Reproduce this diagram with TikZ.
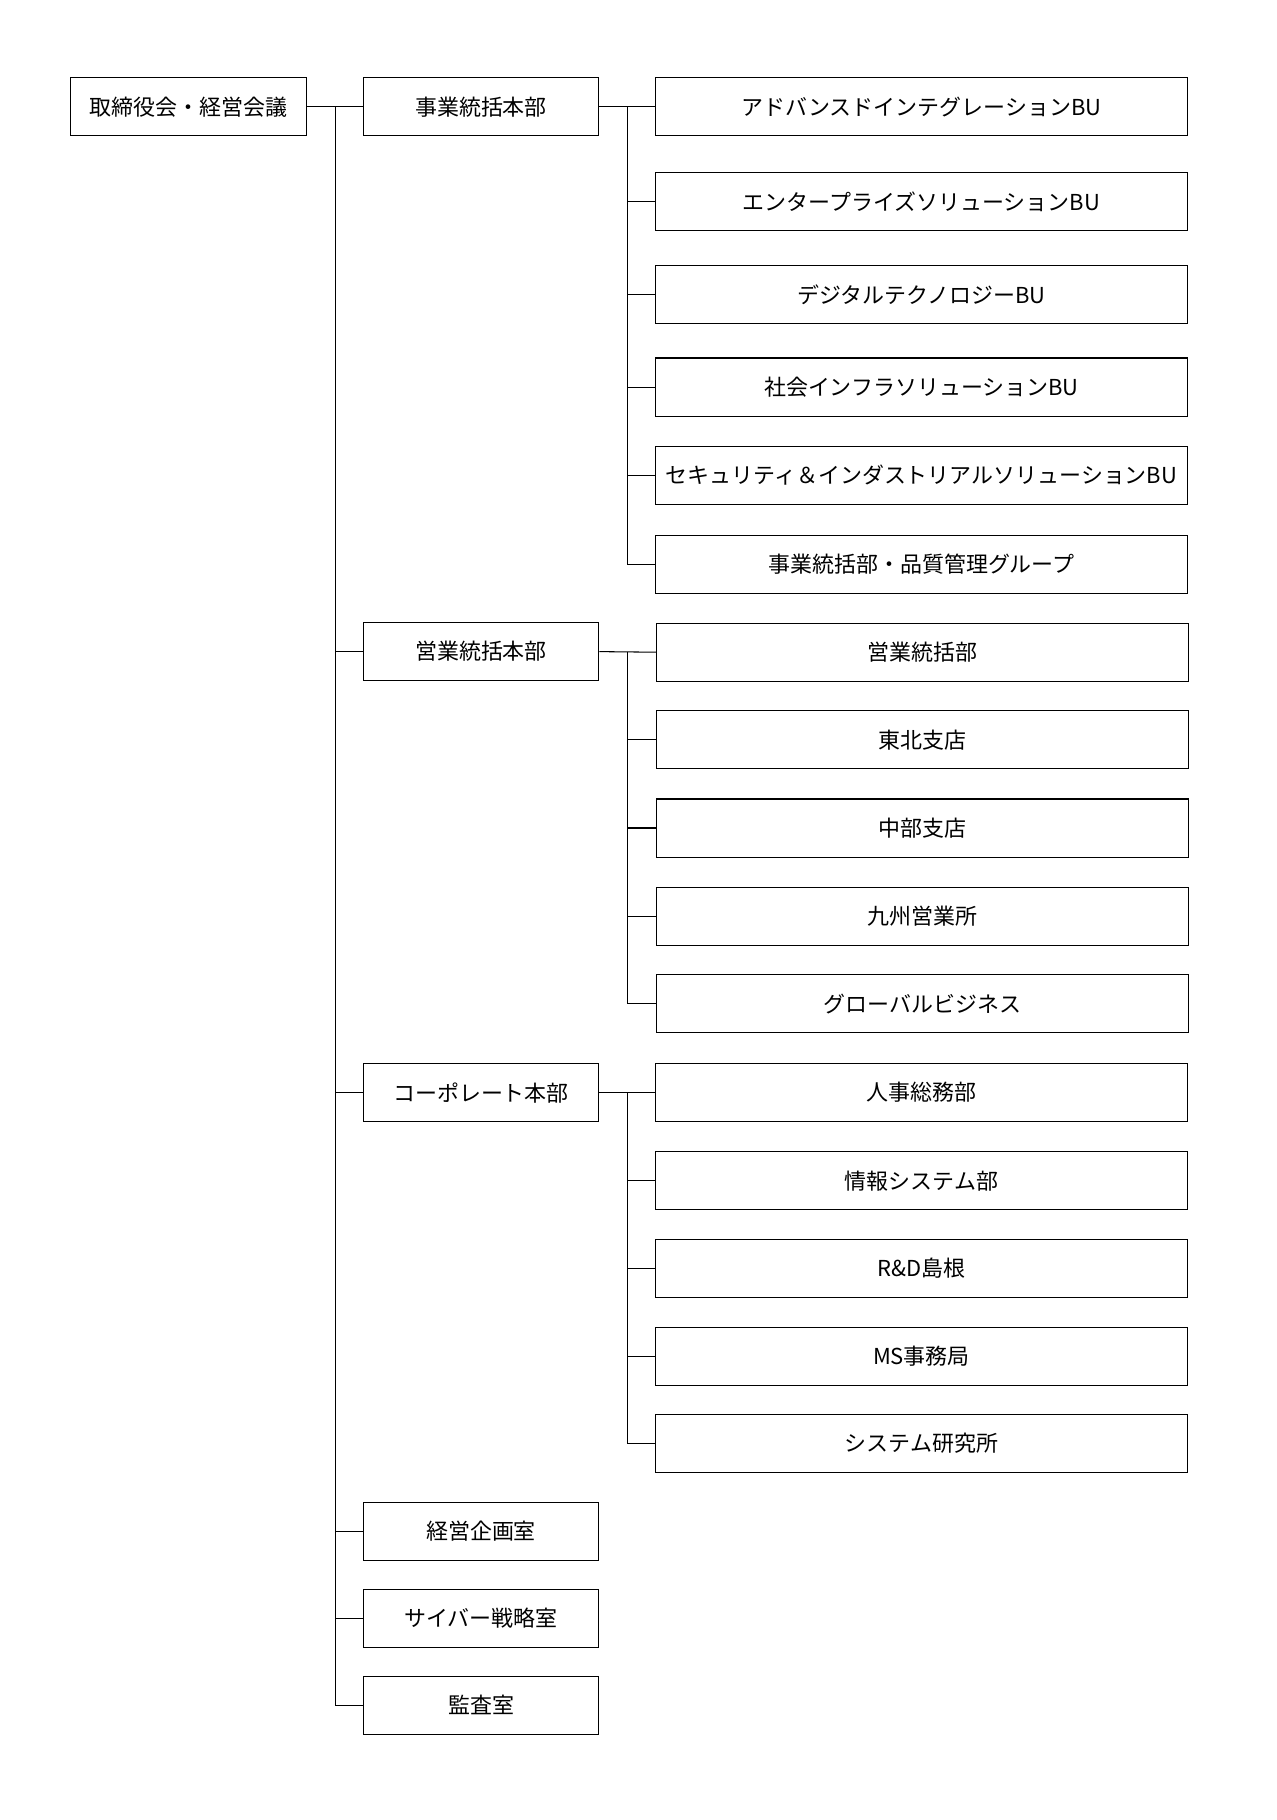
\documentclass[tikz,border=0pt]{standalone}
\usepackage{fontspec}
\setmainfont{Noto Sans CJK JP}
\usetikzlibrary{positioning}

\tikzset{
  unit/.style={draw, line width=0.6pt, minimum height=50*0.02321cm, inner sep=0pt, font=\fontsize{12.5}{15}\selectfont},
  dept/.style={unit, minimum width=203*0.02321cm},
  sect/.style={unit, minimum width=458*0.02321cm},
  link/.style={line width=0.6pt}
}

\begin{document}
\begin{tikzpicture}[x=0.02321cm, y=-0.02321cm]
  \useasboundingbox (0,0) rectangle (1100.3,1568.3);

  % top
  \node[dept] (board) at (162.5,92) {取締役会・経営会議};

  % divisions
  \node[dept] (biz)  at (414.5,92)     {事業統括本部};
  \node[dept] (sales) at (414.5,561.5) {営業統括本部};
  \node[dept] (corp) at (414.5,941.5)  {コーポレート本部};
  \node[dept] (plan) at (414.5,1319.5) {経営企画室};
  \node[dept] (cyber) at (414.5,1394.5) {サイバー戦略室};
  \node[dept] (audit) at (414.5,1469.5) {監査室};

  % business units
  \node[sect] (adv) at (794,92)    {アドバンスドインテグレーションBU};
  \node[sect] (ent) at (794,174)   {エンタープライズソリューションBU};
  \node[sect] (dig) at (794,254)   {デジタルテクノロジーBU};
  \node[sect] (soc) at (794,333.5) {社会インフラソリューションBU};
  \node[sect] (sec) at (794,409.5) {セキュリティ＆インダストリアルソリューションBU};
  \node[sect] (qa)  at (794,486.5) {事業統括部・品質管理グループ};

  % sales units
  \node[sect] (hq)   at (795,562)   {営業統括部};
  \node[sect] (toh)  at (795,637.5) {東北支店};
  \node[sect] (chu)  at (795,713.5) {中部支店};
  \node[sect] (kyu)  at (795,789.5) {九州営業所};
  \node[sect] (glob) at (795,865)   {グローバルビジネス};

  % corporate units
  \node[sect] (hr)  at (794,941.5)  {人事総務部};
  \node[sect] (it)  at (794,1017.5) {情報システム部};
  \node[sect] (rd)  at (794,1093)   {R\&D島根};
  \node[sect] (ms)  at (794,1168.5) {MS事務局};
  \node[sect] (lab) at (794,1243.5) {システム研究所};

  % connectors
  \coordinate (trunk) at (289,92);
  \draw[link] (board.east) -- (biz.west);
  \draw[link] (trunk) |- (audit.west);
  \foreach \d in {sales,corp,plan,cyber}
    \draw[link] (trunk |- \d.west) -- (\d.west);

  \coordinate (bizbus) at (541,92);
  \draw[link] (biz.east) -- (adv.west);
  \draw[link] (bizbus) |- (qa.west);
  \foreach \s in {ent,dig,soc,sec}
    \draw[link] (bizbus |- \s.west) -- (\s.west);

  \coordinate (salesbus) at (541,561.5);
  \draw[link] (sales.east) -- (hq.west);
  \draw[link] (salesbus) |- (glob.west);
  \foreach \s in {toh,chu,kyu}
    \draw[link] (salesbus |- \s.west) -- (\s.west);

  \coordinate (corpbus) at (541,941.5);
  \draw[link] (corp.east) -- (hr.west);
  \draw[link] (corpbus) |- (lab.west);
  \foreach \s in {it,rd,ms}
    \draw[link] (corpbus |- \s.west) -- (\s.west);
\end{tikzpicture}
\end{document}
